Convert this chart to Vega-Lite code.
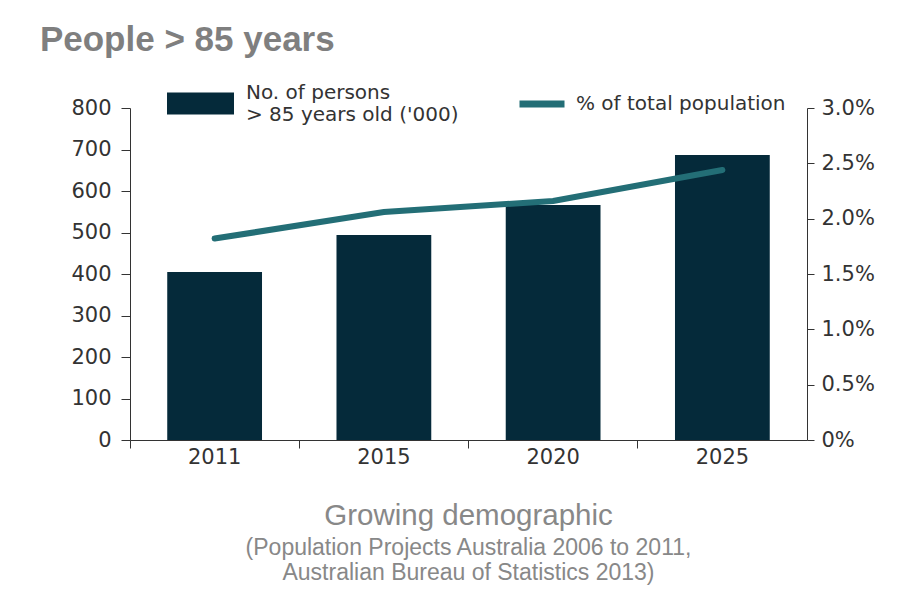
{
  "$schema": "https://vega.github.io/schema/vega-lite/v6.json",
  "padding": {"left": 39, "top": 23, "right": 0, "bottom": 0},
  "background": "#ffffff",
  "title": {
    "text": "People > 85 years",
    "anchor": "start",
    "frame": "bounds",
    "font": "Liberation Sans",
    "fontSize": 35,
    "fontWeight": "bold",
    "color": "#7f7f7f",
    "offset": 1,
    "dx": -31
  },
  "vconcat": [
    {
      "width": 677,
      "height": 332,
      "title": {
        "text": "Growing demographic",
        "orient": "bottom",
        "anchor": "middle",
        "font": "Liberation Sans",
        "fontSize": 29.5,
        "fontWeight": "normal",
        "color": "#888888",
        "offset": 35,
        "subtitle": ["(Population Projects Australia 2006 to 2011,", " Australian Bureau of Statistics 2013)"],
        "subtitleFont": "Liberation Sans",
        "subtitleFontSize": 23,
        "subtitleColor": "#888888",
        "subtitleLineHeight": 25,
        "subtitlePadding": 5
      },
      "data": {
        "values": [
          {"year": "2011", "persons": 405, "pct": 1.82},
          {"year": "2015", "persons": 494, "pct": 2.06},
          {"year": "2020", "persons": 566, "pct": 2.16},
          {"year": "2025", "persons": 687, "pct": 2.44}
        ]
      },
      "encoding": {
        "x": {
          "field": "year",
          "type": "ordinal",
          "scale": {"paddingInner": 0, "paddingOuter": 0}
        }
      },
      "layer": [
        {
          "mark": {"type": "bar", "width": {"band": 0.56}, "color": "#052a3a"},
          "encoding": {
            "x": {
              "field": "year",
              "type": "ordinal",
              "axis": {
                "title": null,
                "orient": "bottom",
                "labelAngle": 0,
                "ticks": false,
                "domainColor": "#333333",
                "labelFont": "DejaVu Sans",
                "labelFontSize": 21,
                "labelColor": "#333333",
                "labelPadding": 6
              }
            },
            "y": {
              "field": "persons",
              "type": "quantitative",
              "scale": {"domain": [0, 800]},
              "axis": {
                "title": null,
                "values": [0, 100, 200, 300, 400, 500, 600, 700, 800],
                "grid": false,
                "domainColor": "#333333",
                "tickColor": "#333333",
                "tickSize": 9,
                "labelFont": "DejaVu Sans",
                "labelFontSize": 21,
                "labelColor": "#333333",
                "labelPadding": 10
              }
            },
            "color": {
              "datum": "No. of persons\n> 85 years old ('000)",
              "scale": {"range": ["#052a3a"]},
              "legend": {
                "title": null,
                "orient": "none",
                "legendX": 37,
                "legendY": -49,
                "symbolType": "M-1,0H1V0.66H-1Z",
                "symbolSize": 4489,
                "symbolStrokeWidth": 0,
                "symbolOpacity": 1,
                "labelExpr": "split(datum.label, '\\n')",
                "labelFont": "DejaVu Sans",
                "labelFontSize": 20,
                "labelColor": "#333333",
                "labelOffset": 12,
                "labelLimit": 400
              }
            }
          }
        },
        {
          "mark": {"type": "line", "strokeWidth": 6, "strokeCap": "round"},
          "encoding": {
            "x": {
              "field": "year",
              "type": "ordinal",
              "axis": {
                "title": null,
                "orient": "bottom",
                "labels": false,
                "domain": false,
                "bandPosition": 0,
                "tickColor": "#333333",
                "tickSize": 8
              }
            },
            "y": {
              "field": "pct",
              "type": "quantitative",
              "scale": {"domain": [0, 3]},
              "axis": {
                "title": null,
                "orient": "right",
                "values": [0, 0.5, 1, 1.5, 2, 2.5, 3],
                "labelExpr": "datum.value == 0 ? '0%' : format(datum.value, '.1f') + '%'",
                "grid": false,
                "domainColor": "#333333",
                "tickColor": "#333333",
                "tickSize": 7,
                "labelFont": "DejaVu Sans",
                "labelFontSize": 21,
                "labelColor": "#333333",
                "labelPadding": 7
              }
            },
            "stroke": {
              "datum": "% of total population",
              "scale": {"range": ["#236e76"]},
              "legend": {
                "title": null,
                "orient": "none",
                "legendX": 386,
                "legendY": -30,
                "symbolType": "stroke",
                "symbolSize": 2025,
                "symbolStrokeWidth": 7,
                "labelFont": "DejaVu Sans",
                "labelFontSize": 20,
                "labelColor": "#333333",
                "labelOffset": 8,
                "labelLimit": 400
              }
            }
          }
        }
      ],
      "resolve": {"scale": {"y": "independent"}, "axis": {"x": "independent"}}
    }
  ],
  "config": {"view": {"stroke": null}}
}
